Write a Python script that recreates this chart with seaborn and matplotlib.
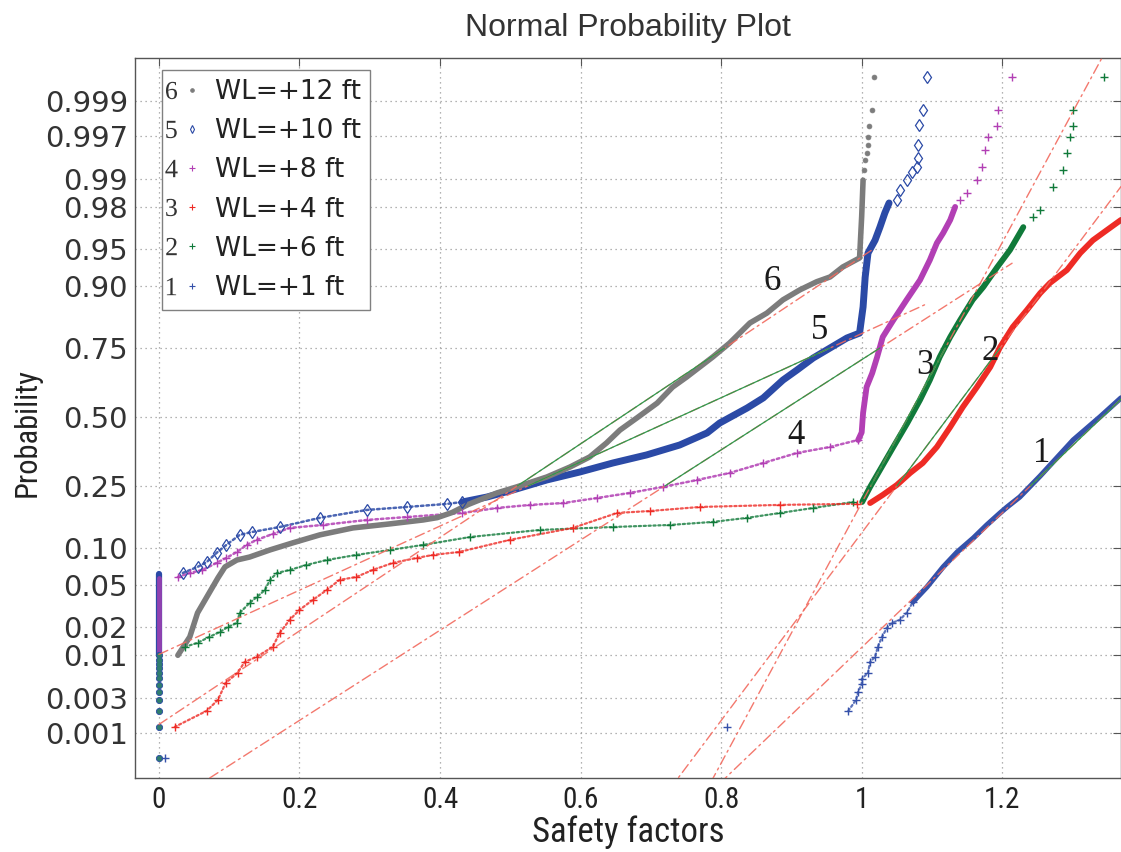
import numpy as np
import matplotlib
matplotlib.use("Agg")
import matplotlib.pyplot as plt
import seaborn as sns
from matplotlib.lines import Line2D
from matplotlib.legend_handler import HandlerTuple
from statistics import NormalDist

# ------------------------------------------------------------------ data
legend_ids = ["6", "5", "4", "3", "2", "1"]
legend_names = ["WL=+12 ft", "WL=+10 ft", "WL=+8 ft", "WL=+4 ft", "WL=+6 ft", "WL=+1 ft"]

# zero safety factors: column of points at x = 0
zero_p = [0.00042, 0.0012, 0.0020, 0.0028, 0.0036, 0.0044, 0.0054, 0.0062,
          0.0071, 0.0079, 0.0088, 0.0099]
zero_dense_s5_p = [0.0099, 0.062]
zero_dense_s4_p = [0.0099, 0.058]

# series 6 (gray dots)
s6_x = [0.027, 0.044, 0.055, 0.068, 0.084, 0.094, 0.111, 0.129, 0.158, 0.190,
        0.229, 0.276, 0.329, 0.376, 0.396, 0.417, 0.440, 0.481, 0.509, 0.552, 0.585,
        0.613, 0.637, 0.656, 0.680, 0.709, 0.731, 0.751, 0.788, 0.812, 0.841,
        0.865, 0.888, 0.912, 0.936, 0.955, 0.973, 0.997, 1.000, 1.002]
s6_p = [0.0099, 0.0158, 0.0277, 0.039, 0.0578, 0.0713, 0.081, 0.0854, 0.0968, 0.109,
        0.1245, 0.139, 0.148, 0.157, 0.1625, 0.175, 0.196, 0.2288, 0.247, 0.2787, 0.3124,
        0.348, 0.400, 0.449, 0.496, 0.554, 0.615, 0.652, 0.721, 0.765, 0.821,
        0.845, 0.874, 0.893, 0.907, 0.9145, 0.9287, 0.940, 0.975, 0.9897]
s6_tail_x = [1.003, 1.005, 1.007, 1.009, 1.009, 1.010, 1.015, 1.017]
s6_tail_p = [0.9921, 0.994, 0.9951, 0.9961, 0.9969, 0.9978, 0.99865, 0.99955]

# series 5 (blue diamonds)
s5_sparse_x = [0.034, 0.055, 0.068, 0.082, 0.096, 0.115, 0.133, 0.172, 0.229,
               0.296, 0.353, 0.410, 0.432]
s5_sparse_p = [0.0636, 0.0713, 0.078, 0.0919, 0.1055, 0.1245, 0.1305, 0.141, 0.162,
               0.1817, 0.1895, 0.1977, 0.203]
s5_x = [0.432, 0.467, 0.504, 0.552, 0.599, 0.646, 0.694, 0.741, 0.780, 0.798,
        0.837, 0.860, 0.888, 0.908, 0.931, 0.955, 0.979, 0.997, 1.002, 1.005,
        1.009, 1.019, 1.026, 1.033, 1.039]
s5_p = [0.203, 0.217, 0.2377, 0.269, 0.2953, 0.3264, 0.3553, 0.392, 0.438, 0.4765,
        0.535, 0.574, 0.641, 0.677, 0.718, 0.75, 0.78, 0.794, 0.859, 0.9145,
        0.9455, 0.958, 0.9683, 0.977, 0.9818]
s5_tail_x = [1.050, 1.054, 1.064, 1.071, 1.079, 1.080, 1.080, 1.081, 1.087, 1.093]
s5_tail_p = [0.983, 0.9868, 0.9897, 0.9917, 0.9927, 0.9943, 0.9961, 0.99784, 0.99865, 0.99955]

# series 4 (magenta +)
s4_sparse_x = [0.027, 0.044, 0.062, 0.082, 0.096, 0.111, 0.125, 0.139, 0.162, 0.186,
               0.233, 0.296, 0.353, 0.432, 0.481, 0.528, 0.575, 0.623, 0.670, 0.717,
               0.766, 0.812, 0.860, 0.908, 0.955, 0.995]
s4_sparse_p = [0.0589, 0.0636, 0.0673, 0.0768, 0.0841, 0.0934, 0.1055, 0.1147, 0.1263, 0.139,
               0.1455, 0.157, 0.164, 0.174, 0.1868, 0.1949, 0.200, 0.214, 0.2288, 0.247,
               0.269, 0.292, 0.3264, 0.3625, 0.3847, 0.411]
s4_x = [0.995, 1.000, 1.002, 1.007, 1.015, 1.022, 1.030, 1.045, 1.064, 1.083,
        1.097, 1.107, 1.116, 1.126, 1.133]
s4_p = [0.411, 0.440, 0.5156, 0.615, 0.666, 0.721, 0.783, 0.828, 0.874, 0.9097,
        0.9376, 0.9555, 0.964, 0.973, 0.980]
s4_tail_x = [1.140, 1.150, 1.164, 1.171, 1.176, 1.180, 1.193, 1.194, 1.214]
s4_tail_p = [0.983, 0.9857, 0.9897, 0.9927, 0.9955, 0.9969, 0.99778, 0.99865, 0.99955]

# series 3 (red +)
s3_sparse_x = [0.0225, 0.068, 0.084, 0.095, 0.112, 0.122, 0.139, 0.162, 0.172, 0.186,
               0.200, 0.219, 0.239, 0.257, 0.281, 0.304, 0.333, 0.367, 0.390, 0.427,
               0.500, 0.589, 0.652, 0.699, 0.770, 0.884, 0.993]
s3_sparse_p = [0.00122, 0.00203, 0.00284, 0.00466, 0.00617, 0.0083, 0.0095, 0.0123, 0.0174, 0.0236,
               0.0296, 0.0368, 0.0454, 0.0556, 0.0589, 0.0673, 0.0768, 0.0841, 0.0887, 0.0934,
               0.115, 0.139, 0.174, 0.179, 0.1895, 0.195, 0.198]
s3_x = [1.012, 1.030, 1.050, 1.069, 1.087, 1.107, 1.126, 1.144, 1.164, 1.183,
        1.197, 1.215, 1.235, 1.254, 1.268, 1.292, 1.311, 1.329, 1.349, 1.369]
s3_p = [0.200, 0.223, 0.253, 0.292, 0.3264, 0.3847, 0.461, 0.539, 0.615, 0.6876,
        0.753, 0.8105, 0.852, 0.887, 0.905, 0.9246, 0.9455, 0.958, 0.9662, 0.973]

# series 2 (green +)
s2_sparse_x = [0.037, 0.055, 0.072, 0.087, 0.098, 0.111, 0.115, 0.129, 0.139, 0.151,
               0.158, 0.168, 0.186, 0.210, 0.239, 0.281, 0.329, 0.376, 0.443, 0.542,
               0.646, 0.727, 0.788, 0.837, 0.884, 0.931, 0.988]
s2_sparse_p = [0.0123, 0.0136, 0.0158, 0.0178, 0.020, 0.022, 0.0277, 0.0345, 0.039, 0.0454,
               0.0556, 0.0636, 0.0673, 0.074, 0.081, 0.0887, 0.0968, 0.1055, 0.1203, 0.1347,
               0.141, 0.1455, 0.1524, 0.162, 0.174, 0.1868, 0.203]
s2_x = [1.0007, 1.012, 1.026, 1.045, 1.065, 1.083, 1.097, 1.111, 1.126, 1.140,
        1.158, 1.173, 1.193, 1.211, 1.230]
s2_p = [0.203, 0.247, 0.302, 0.3847, 0.4765, 0.566, 0.641, 0.721, 0.783, 0.828,
        0.874, 0.898, 0.9287, 0.9487, 0.9683]
s2_tail_x = [1.244, 1.254, 1.272, 1.287, 1.292, 1.297, 1.301, 1.301, 1.345]
s2_tail_p = [0.9747, 0.9785, 0.9877, 0.9921, 0.9951, 0.9969, 0.99778, 0.99865, 0.99955]

# series 1 (blue +)
s1_tail_x = [0.008, 0.808]
s1_tail_p = [0.00042, 0.00122]
s1_sparse_x = [0.981, 0.992, 0.995, 1.000, 1.000, 1.009, 1.012, 1.019, 1.023, 1.029,
               1.036, 1.043, 1.054, 1.064, 1.073]
s1_sparse_p = [0.00203, 0.00284, 0.0036, 0.0045, 0.0052, 0.0062, 0.0083, 0.0095, 0.0123, 0.0158,
               0.0196, 0.022, 0.0236, 0.0277, 0.0353]
s1_x = [1.073, 1.093, 1.116, 1.136, 1.159, 1.178, 1.197, 1.207, 1.225, 1.254,
        1.301, 1.339, 1.369]
s1_p = [0.0353, 0.0483, 0.0713, 0.0934, 0.1184, 0.1455, 0.174, 0.1895, 0.217, 0.282,
        0.411, 0.500, 0.574]

# reference-line quartiles (x at p = 0.25 and p = 0.75), order 6..1
ref_q1 = [0.510, 0.525, 0.720, 1.050, 1.013, 1.240]
ref_q3 = [0.805, 0.955, 1.026, 1.197, 1.119, 1.445]

# curve labels
curve_label_text = ["6", "5", "4", "3", "2", "1"]
curve_label_x = [0.872, 0.940, 0.907, 1.090, 1.183, 1.256]
curve_label_p = [0.907, 0.802, 0.430, 0.694, 0.738, 0.361]

x_ticks = [0, 0.2, 0.4, 0.6, 0.8, 1.0, 1.2]
x_tick_labels = ["0", "0.2", "0.4", "0.6", "0.8", "1", "1.2"]
y_ticks = [0.001, 0.003, 0.01, 0.02, 0.05, 0.10, 0.25, 0.50, 0.75, 0.90, 0.95,
           0.98, 0.99, 0.997, 0.999]
y_tick_labels = ["0.001", "0.003", "0.01", "0.02", "0.05", "0.10", "0.25", "0.50",
                 "0.75", "0.90", "0.95", "0.98", "0.99", "0.997", "0.999"]

# ------------------------------------------------------------------ style
sns.set_theme(style="white")
plt.rcParams["font.family"] = ["DejaVu Sans"]
plt.rcParams["mathtext.fontset"] = "custom"
plt.rcParams["mathtext.rm"] = "Liberation Serif"
plt.rcParams["mathtext.it"] = "Liberation Serif"

C_GRAY = "#7c7c7c"
C_BLUE5 = "#2b4aa6"
C_MAG = "#b23fb4"
C_RED = "#ee2b25"
C_GREEN = "#107a3a"
C_BLUE1 = "#3551aa"
C_REF = "#f26a5e"
C_SEG = "#2e9a4e"
NARROW = ["Liberation Sans Narrow", "Roboto Condensed", "Roboto", "DejaVu Sans"]
SERIF = ["Liberation Serif", "DejaVu Serif"]

nd = NormalDist()


def fwd(p):
    a = np.array(p, dtype=float)
    shape = a.shape
    a = a.ravel()
    out = np.full(a.shape, np.nan)
    for i, v in enumerate(a):
        if np.isfinite(v):
            out[i] = nd.inv_cdf(min(max(v, 1e-15), 1 - 1e-15))
    return out.reshape(shape)


def inv(z):
    a = np.array(z, dtype=float)
    shape = a.shape
    a = a.ravel()
    out = np.full(a.shape, np.nan)
    for i, v in enumerate(a):
        if np.isfinite(v):
            out[i] = nd.cdf(v)
    return out.reshape(shape)


fig = plt.figure(figsize=(11.21, 8.52), dpi=100)
ax = fig.add_axes([135 / 1121, 74 / 852, 986 / 1121, 720 / 852])
ax.set_yscale("function", functions=(fwd, inv))


def line(x, p, color, lw, ls="-", z=2, alpha=1.0):
    sns.lineplot(x=x, y=p, sort=False, estimator=None, color=color, lw=lw, ls=ls,
                 ax=ax, legend=False, zorder=z, alpha=alpha,
                 solid_capstyle="round", dash_capstyle="round")


def marks(x, p, color, marker, ms, mew=1.0, fill=True, z=3):
    sns.lineplot(x=x, y=p, sort=False, estimator=None, color=color, ls="none",
                 marker=marker, ms=ms, mew=mew, mec=color,
                 mfc=(color if fill else "none"), ax=ax, legend=False, zorder=z)


DOT = (0, (1.0, 1.2))

# zero column
line([0.0] * 2, zero_dense_s5_p, C_BLUE5, 4.5, z=2)
line([0.0] * 2, zero_dense_s4_p, C_MAG, 3.5, z=2, alpha=0.75)
marks([0.0] * len(zero_p), zero_p, C_BLUE5, "o", 4.5, mew=0.6)
marks([0.0] * len(zero_p), zero_p, "#2f7d6e", "o", 3.6, mew=0.3)

# series 1
marks(s1_tail_x, s1_tail_p, C_BLUE1, "+", 6, mew=1.0)
line(s1_sparse_x, s1_sparse_p, C_BLUE1, 1.6, ls=DOT, alpha=0.8)
marks(s1_sparse_x, s1_sparse_p, C_BLUE1, "+", 6, mew=1.0)
line(s1_x, s1_p, C_BLUE1, 3.8)

# series 2
line(s2_sparse_x, s2_sparse_p, C_GREEN, 1.6, ls=DOT, alpha=0.8)
marks(s2_sparse_x, s2_sparse_p, C_GREEN, "+", 6, mew=1.0)
line(s2_x, s2_p, C_GREEN, 4.2)
marks(s2_tail_x, s2_tail_p, C_GREEN, "+", 6, mew=1.0)

# series 3
line(s3_sparse_x, s3_sparse_p, C_RED, 1.6, ls=DOT, alpha=0.8)
marks(s3_sparse_x, s3_sparse_p, C_RED, "+", 6, mew=1.0)
line(s3_x, s3_p, C_RED, 4.2)

# series 4
line(s4_sparse_x, s4_sparse_p, C_MAG, 1.8, ls=DOT, alpha=0.85)
marks(s4_sparse_x, s4_sparse_p, C_MAG, "+", 6, mew=1.0)
line(s4_x, s4_p, C_MAG, 4.2)
marks(s4_tail_x, s4_tail_p, C_MAG, "+", 6, mew=1.0)

# series 5
line(s5_sparse_x, s5_sparse_p, C_BLUE5, 1.8, ls=DOT, alpha=0.85)
marks(s5_sparse_x, s5_sparse_p, C_BLUE5, "d", 6, mew=0.9, fill=False)
line(s5_x, s5_p, C_BLUE5, 5.0)
marks(s5_tail_x, s5_tail_p, C_BLUE5, "d", 6, mew=0.9, fill=False)

# series 6
line(s6_x, s6_p, C_GRAY, 4.0)
marks(s6_tail_x, s6_tail_p, C_GRAY, "o", 3.5, mew=0.5)

# reference lines (solid between quartiles, dash-dot over data range)
all_x = [
    [0.0] + s6_x + s6_tail_x,
    [0.0] + s5_sparse_x + s5_x + s5_tail_x,
    [0.0] + s4_sparse_x + s4_x + s4_tail_x,
    [0.0] + s3_sparse_x + s3_x,
    [0.0] + s2_sparse_x + s2_x + s2_tail_x,
    s1_tail_x + s1_sparse_x + s1_x,
]
z1, z3 = nd.inv_cdf(0.25), nd.inv_cdf(0.75)
for q1, q3, xs in zip(ref_q1, ref_q3, all_x):
    slope = (z3 - z1) / (q3 - q1)
    xa, xb = min(xs), max(xs)
    xa = max(xa, q1 + (-5.0 - z1) / slope)
    xb = min(xb, q1 + (5.0 - z1) / slope)
    ends_x = [xa, xb]
    ends_p = [nd.cdf(z1 + slope * (v - q1)) for v in ends_x]
    line(ends_x, ends_p, C_REF, 1.0, ls=(0, (7, 3, 1.5, 3)), z=4, alpha=0.9)
    line([q1, q3], [0.25, 0.75], C_SEG, 0.9, z=4)

# curve labels
for t, lx, lp in zip(curve_label_text, curve_label_x, curve_label_p):
    ax.text(lx, lp, t, ha="center", va="center", fontsize=25,
            family=SERIF, color="#1a1a1a", zorder=6)

# axes
ax.set_xlim(-0.034, 1.369)
ax.set_ylim(nd.cdf(-3.53), nd.cdf(3.51))
ax.set_xticks(x_ticks)
ax.set_xticklabels(x_tick_labels, family=NARROW, fontsize=21, color="#222222")
ax.set_yticks(y_ticks)
ax.set_yticklabels(y_tick_labels, fontsize=21, color="#333333")
ax.yaxis.set_minor_locator(matplotlib.ticker.NullLocator())
ax.xaxis.set_minor_locator(matplotlib.ticker.NullLocator())
ax.tick_params(direction="in", length=6, width=0.8, color="#555555",
               top=True, right=True, pad=6)
ax.tick_params(axis="y", pad=5)
ax.grid(True, ls=(0, (1, 3)), color="#9a9a9a", lw=0.9)
for s in ax.spines.values():
    s.set_color("#555555")
    s.set_linewidth(1.0)

ax.set_xlabel("Safety factors", family=NARROW, fontsize=25, color="#222222", labelpad=1)
ax.set_ylabel("Probability", family=NARROW, fontsize=22, color="#222222")
ax.yaxis.set_label_coords(-0.0943, 0.48)
ax.set_title("Normal Probability Plot", family=["Liberation Sans", "DejaVu Sans"],
             fontsize=23, color="#333333", pad=16)

# legend
styles = [
    dict(marker="o", color=C_GRAY, mfc=C_GRAY, ms=2.5),
    dict(marker="d", color=C_BLUE5, mfc="none", ms=4),
    dict(marker="+", color=C_MAG, ms=4),
    dict(marker="+", color=C_RED, ms=4),
    dict(marker="+", color=C_GREEN, ms=4),
    dict(marker="+", color=C_BLUE1, ms=4),
]
handles = []
for i, st in zip(legend_ids, styles):
    num = Line2D([], [], ls="none", marker=r"$\mathrm{%s}$" % i, color="#333333",
                 ms=12.5, mew=0)
    mk = Line2D([], [], ls="none", mew=0.8, **st)
    handles.append((num, mk))
leg = ax.legend(handles, legend_names,
                handler_map={tuple: HandlerTuple(ndivide=None, pad=0.72)},
                loc="upper left", bbox_to_anchor=(0.027, 0.983), borderaxespad=0,
                fontsize=19, frameon=True, fancybox=False, framealpha=1,
                edgecolor="#808080", handlelength=0.87, handletextpad=0.83,
                labelspacing=0.5, borderpad=0.33)
leg.get_frame().set_linewidth(1.0)
for t in leg.get_texts():
    t.set_color("#222222")
leg.set_zorder(10)

fig.savefig("out.png", dpi=100)
